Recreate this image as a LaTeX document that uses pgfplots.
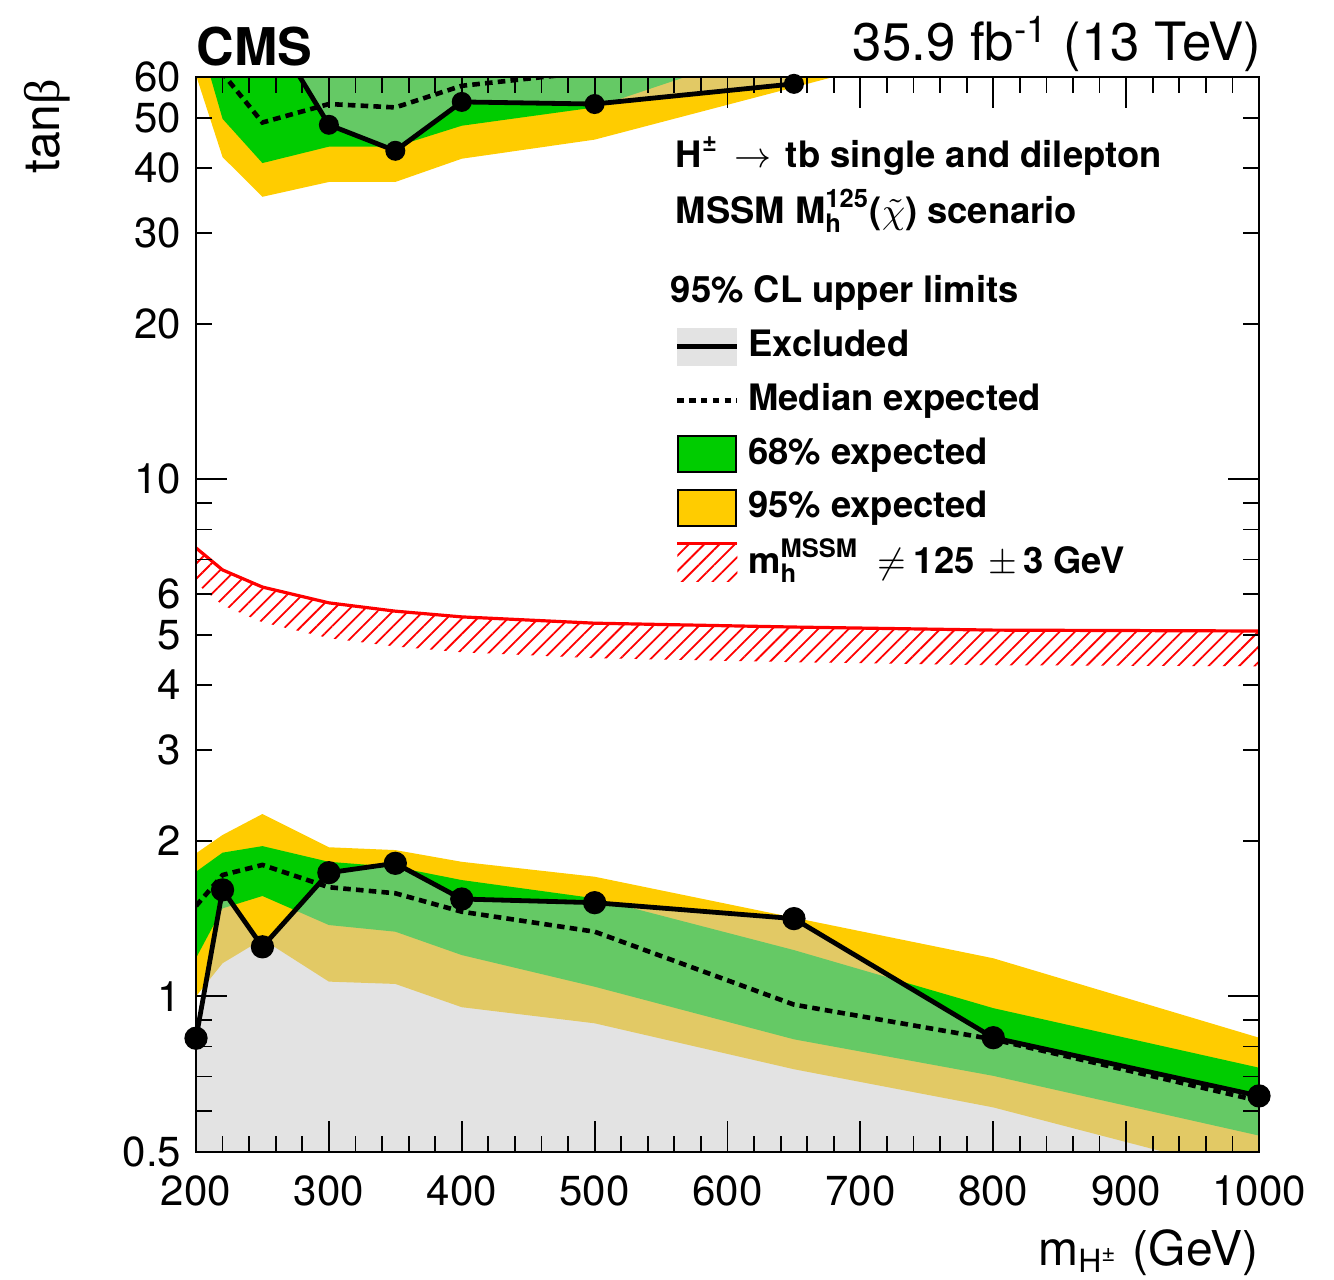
\documentclass[border=0pt]{standalone}
\usepackage{amsmath}
\usepackage{pgfplots}
\pgfplotsset{compat=1.18}
\usepackage{fontspec}
\setmainfont{TeX Gyre Heros}
\newfontfamily\grk{Liberation Serif}
\usetikzlibrary{patterns.meta}
\definecolor{yel}{HTML}{FFCC00}
\definecolor{grn}{HTML}{00CC00}
\definecolor{exgrey}{HTML}{C8C8C8}
\definecolor{exlegend}{HTML}{E3E3E3}
\newcommand\fs[1]{\fontsize{#1}{#1}\selectfont}
\begin{document}
\begin{tikzpicture}
\path[use as bounding box] (-49pt,-31.75pt) rectangle (284.5pt,288pt);
\begin{axis}[
  at={(0pt,0pt)}, anchor=south west, scale only axis,
  width=265.75pt, height=268.75pt,
  xmin=200, xmax=1000, ymode=log, ymin=0.5, ymax=60,
  axis on top,
  axis line style={line width=0.45pt},
  tick align=inside, tick pos=both,
  tick style={black, line width=0.45pt},
  major tick length=7.75pt, minor tick length=4pt,
  xtick={200,300,...,1000},
  xticklabels={200,300,400,500,600,700,800,900,1000},
  minor x tick num=4,
  ytick={1,10}, yticklabels={1,10},
  extra y ticks={0.5,2,3,4,5,6,20,30,40,50,60},
  extra y tick labels={0.5,2,3,4,5,6,20,30,40,50,60},
  extra y tick style={major tick length=4pt},
  minor ytick={0.6,0.7,0.8,0.9,7,8,9},
  ticklabel style={font=\fs{10.5}},
  xticklabel style={inner sep=0pt, yshift=-5.75pt},
  yticklabel style={inner sep=0pt, xshift=-3.5pt},
  /pgf/number format/assume math mode=true,
  legend style={at={(0.4506,0.7668)}, anchor=north west, draw=none, fill=none,
    inner sep=0pt, outer sep=0pt, row sep=3.9pt, font=\bfseries\fs{9.1},
    nodes={inner sep=0pt},
    /tikz/every odd column/.append style={column sep=2.1pt}},
  legend cell align=left,
]
% ---------- 95% band
\addplot[forget plot, draw=none, fill=yel] coordinates {
 (200,1.891)(220,2.052)(250,2.253)(300,1.943)(350,1.919)(400,1.821)(500,1.704)(650,1.42)(800,1.185)(1000,0.832)
 (1000,0.448)(800,0.610)(650,0.723)(500,0.887)(400,0.953)(350,1.057)(300,1.068)(250,1.29)(220,1.159)(200,1.0)} -- cycle;
\addplot[forget plot, draw=none, fill=yel] coordinates {
 (200,60.5)(220,42.0)(250,35.2)(300,37.6)(350,37.6)(400,41.7)(500,45.4)(650,57.3)(800,72.4)(1000,100)
 (1000,200)(200,200)} -- cycle;
% ---------- 68% band
\addplot[forget plot, draw=none, fill=grn] coordinates {
 (200,1.742)(220,1.897)(250,1.953)(300,1.821)(350,1.78)(400,1.679)(500,1.548)(650,1.229)(800,0.949)(1000,0.728)
 (1000,0.538)(800,0.702)(650,0.826)(500,1.044)(400,1.202)(350,1.334)(300,1.374)(250,1.564)(220,1.480)(200,1.186)} -- cycle;
\addplot[forget plot, draw=none, fill=grn] coordinates {
 (200,75)(220,49.8)(250,40.9)(300,44.0)(350,44.0)(400,48.3)(500,52.4)(650,70.6)(800,95)(1000,130)
 (1000,200)(200,200)} -- cycle;
% ---------- excluded regions
\addplot[forget plot, draw=none, fill=exgrey, fill opacity=0.51] coordinates {
 (200,0.830)(220,1.607)(250,1.247)(300,1.735)(350,1.809)(400,1.543)(500,1.518)(650,1.414)(800,0.832)(1000,0.642)
 (1000,0.3)(200,0.3)} -- cycle;
\addplot[forget plot, draw=none, fill=exgrey, fill opacity=0.51] coordinates {
 (250,79)(300,48.5)(350,43.2)(400,53.7)(500,53.2)(650,58.2)(650,200)(250,200)} -- cycle;
% ---------- m_h != 125 +- 3 GeV
\addplot[forget plot, draw=none, pattern={Lines[angle=45,distance=2.7pt,line width=0.45pt]}, pattern color=red] coordinates {
 (200,7.37)(220,6.68)(250,6.19)(300,5.77)(350,5.56)(400,5.42)(500,5.27)(650,5.18)(800,5.11)(1000,5.09)
 (1000,4.35)(800,4.37)(650,4.43)(500,4.51)(400,4.63)(350,4.75)(300,4.93)(250,5.29)(220,5.71)(200,6.30)} -- cycle;
\addplot[forget plot, red, line width=0.8pt] coordinates {
 (200,7.37)(220,6.68)(250,6.19)(300,5.77)(350,5.56)(400,5.42)(500,5.27)(650,5.18)(800,5.11)(1000,5.09)};
% ---------- median expected
\addplot[forget plot, black, line width=1.15pt, dash pattern=on 1.9pt off 1.3pt] coordinates {
 (200,1.496)(220,1.717)(250,1.796)(300,1.626)(350,1.583)(400,1.458)(500,1.334)(650,0.964)(800,0.826)(1000,0.628)};
\addplot[forget plot, black, line width=1.15pt, dash pattern=on 1.9pt off 1.3pt] coordinates {
 (200,70)(220,61)(250,49.0)(300,53.2)(350,52.4)(400,57.7)(500,61.5)(650,68)(800,80)(1000,100)};
% ---------- observed
\addplot[forget plot, black, line width=1.2pt, mark=*, mark size=2.3pt, mark options={solid}] coordinates {
 (200,0.830)(220,1.607)(250,1.247)(300,1.735)(350,1.809)(400,1.543)(500,1.518)(650,1.414)(800,0.832)(1000,0.642)};
\addplot[forget plot, black, line width=1.2pt] coordinates {
 (250,79)(300,48.5)(350,43.2)(400,53.7)(500,53.2)(650,58.2)};
\addplot[forget plot, black, only marks, mark=*, mark size=2.3pt] coordinates {
 (300,48.5)(350,43.2)(400,53.7)(500,53.2)(650,58.2)};
% ---------- legend
\addlegendimage{legend image code/.code={
  \path[draw=none,fill=exlegend] (0pt,-4.75pt) rectangle (15pt,4.75pt);
  \path[draw=black,line width=1.2pt] (0pt,0pt) -- (15pt,0pt);}}
\addlegendentry{Excluded}
\addlegendimage{legend image code/.code={
  \path[draw=none] (0pt,-4.75pt) rectangle (15pt,4.75pt);
  \path[draw=black,line width=1.15pt,dash pattern=on 1.6pt off 1.35pt] (0pt,0pt) -- (15pt,0pt);}}
\addlegendentry{Median expected}
\addlegendimage{legend image code/.code={
  \path[fill=grn,draw=black,line width=0.5pt] (0.25pt,-4.5pt) rectangle (14.75pt,4.5pt);}}
\addlegendentry{68\% expected}
\addlegendimage{legend image code/.code={
  \path[fill=yel,draw=black,line width=0.5pt] (0.25pt,-4.5pt) rectangle (14.75pt,4.5pt);}}
\addlegendentry{95\% expected}
\addlegendimage{legend image code/.code={
  \path[draw=none,pattern={Lines[angle=45,distance=2.7pt,line width=0.45pt]}, pattern color=red] (0pt,-4.75pt) rectangle (15pt,4.75pt);
  \path[draw=red,line width=0.8pt] (0pt,4.75pt) -- (15pt,4.75pt);}}
\addlegendentry{m\smash{$_{\text{h}}^{\text{MSSM}}$}\hspace{4.5pt}$\neq$\hspace{2pt}125\hspace{3.5pt}$\pm$\hspace{1.5pt}3 GeV}
\end{axis}
\begin{scope}[x=0.25pt,y=-0.25pt,shift={(-49pt,288pt)}]
  \node[anchor=base west, inner sep=0pt, font=\bfseries\fs{13}] at (196,65) {CMS};
  \node[anchor=base east, inner sep=0pt, font=\fs{13.2}] at (1262,60) {35.9 fb\textsuperscript{-1} (13 TeV)};
  \node[rotate=90, anchor=base east, inner sep=0pt, font=\fs{12.5}] at (60,78) {tan{\grk β}};
  \node[anchor=base east, inner sep=0pt, font=\fs{12}] at (1259,1265) {m\textsubscript{H\textsuperscript{±}} (GeV)};
  \node[anchor=base west, inner sep=0pt, font=\bfseries\fs{9.1}] at (675,167) {H\textsuperscript{±}\hspace{4pt}$\rightarrow$\hspace{3.5pt}tb single and dilepton};
  \node[anchor=base west, inner sep=0pt, font=\bfseries\fs{9.1}] at (675,223) {MSSM M$_{\text{h}}^{\text{125}}$($\tilde{\chi}$) scenario};
  \node[anchor=base west, inner sep=0pt, font=\bfseries\fs{9.1}] at (670,302) {95\% CL upper limits};
\end{scope}
\end{tikzpicture}
\end{document}
